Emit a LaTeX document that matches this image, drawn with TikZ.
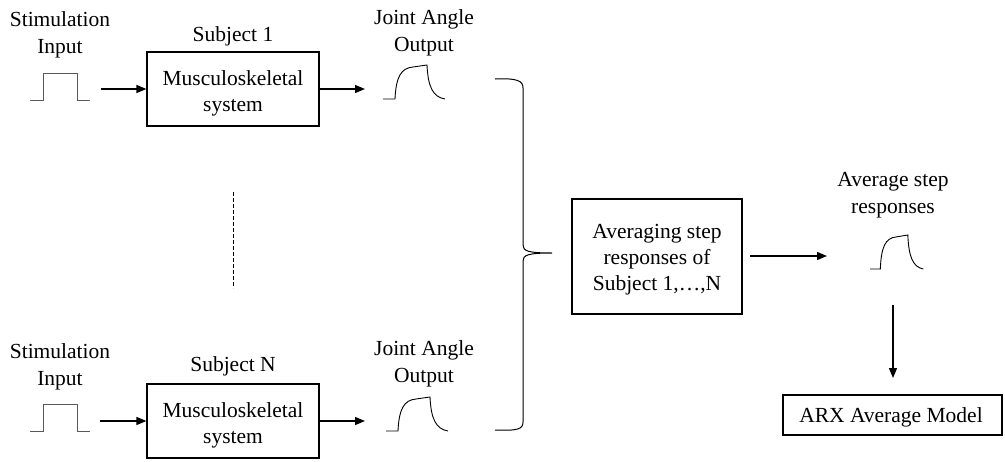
\documentclass[tikz,border=0pt]{standalone}
\usepackage{fontspec}
\setmainfont{Liberation Serif}
\usetikzlibrary{arrows.meta}
\tikzset{
  lbl/.style={align=center, inner sep=0pt, font=\fontsize{21.5}{27}\selectfont},
  txt/.style={align=center, inner sep=0pt, font=\fontsize{21.5}{26}\selectfont},
  blk/.style={draw, line width=1.2pt, inner sep=0pt},
  flow/.style={line width=1.3pt, -{Triangle[length=10pt,width=8pt]}},
  pulse/.pic={\draw[gray!70!black, line width=1pt]
      (0,0) -- (13,0) -- (13,-27) -- (47,-27) -- (47,0) -- (60,0);},
  resp/.pic={\draw[line width=0.9pt]
      (0,0) -- (12,0) .. controls (13,-22) and (18,-31) .. (30,-32)
      -- (44,-34) .. controls (45,-12) and (50,-2) .. (62,0);}
}
\begin{document}
\begin{tikzpicture}[x=1pt, y=-1pt]
\useasboundingbox (0,0) rectangle (1005,461);

% ---- subject 1 ----
\node[lbl] (stim1) at (60,35) {Stimulation\\Input};
\node[lbl] (subj1) at (233,36) {Subject 1};
\node[blk, minimum width=172pt, minimum height=74pt] (box1) at (233,89) {};
\node[txt] (box1t) at (233,93) {Musculoskeletal\\system};
\node[lbl] (out1) at (424,33) {Joint Angle\\Output};
\pic at (30,100) {pulse};
\pic at (383,99) {resp};
\coordinate (in1) at (101,89);
\coordinate (o1) at (365,89);
\draw[flow] (in1) -- (box1.west);
\draw[flow] (box1.east) -- (o1);

% ---- subject N ----
\node[lbl] (stimN) at (60,367) {Stimulation\\Input};
\node[lbl] (subjN) at (233,366) {Subject N};
\node[blk, minimum width=172pt, minimum height=74pt] (boxN) at (233,421) {};
\node[txt] (boxNt) at (233,425) {Musculoskeletal\\system};
\node[lbl] (outN) at (424,364) {Joint Angle\\Output};
\pic at (30,431) {pulse};
\pic at (386,431) {resp};
\coordinate (inN) at (100,421);
\coordinate (oN) at (365,421);
\draw[flow] (inN) -- (boxN.west);
\draw[flow] (boxN.east) -- (oN);

% ---- subjects in between ----
\coordinate (d1) at (233,192);
\coordinate (d2) at (233,288);
\draw[line width=0.9pt, dash pattern=on 4pt off 2pt] (d1) -- (d2);

% ---- brace gathering the outputs ----
\draw[line width=1pt]
  (495,79) .. controls (518,78) and (523,81) .. (523,88) -- (523,245)
  .. controls (523,251) and (528,253) .. (552,253)
  .. controls (528,253) and (523,255) .. (523,261) -- (523,422)
  .. controls (523,429) and (518,431) .. (495,430);

% ---- averaging ----
\node[blk, minimum width=170pt, minimum height=115pt] (avg) at (657,256.5) {};
\node[txt] (avgt) at (657,260) {Averaging step\\responses of\\Subject 1,\ldots,N};
\coordinate (ai) at (750,256);
\coordinate (ao) at (827,256);
\draw[flow] (ai) -- (ao);
\node[lbl] (avgr) at (893,195) {Average step\\responses};
\pic[xscale=0.86] at (870,269) {resp};
\coordinate (dn1) at (893,305);
\coordinate (dn2) at (893,378);
\draw[flow] (dn1) -- (dn2);
\node[blk, minimum width=219pt, minimum height=40pt] (arx) at (892.5,415) {};
\node[txt] (arxt) at (891,417) {ARX Average Model};
\end{tikzpicture}
\end{document}
